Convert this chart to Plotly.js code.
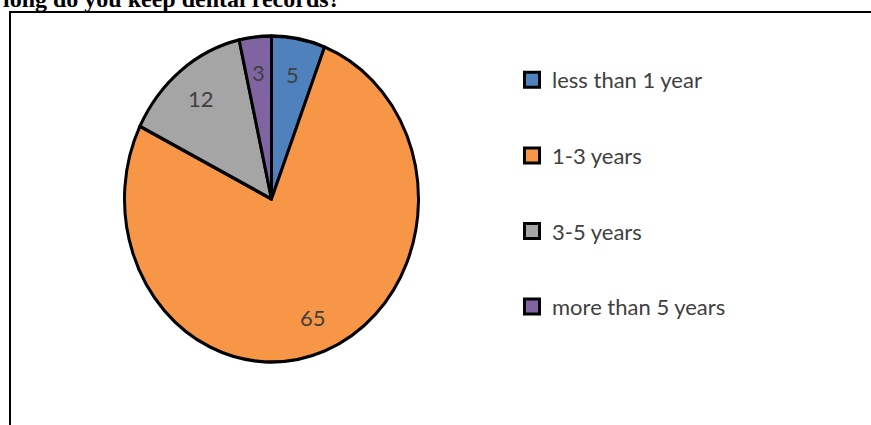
<!DOCTYPE html>
<html>
<head>
<meta charset="utf-8">
<script src="https://cdn.plot.ly/plotly-3.0.1.min.js"></script>
<style>html,body{margin:0;padding:0;background:#fff;}#chart{width:871px;height:425px;}</style>
</head>
<body>
<div id="chart"></div>
<script>
const categories = ["less than 1 year", "1-3 years", "3-5 years", "more than 5 years"];
const values = [5, 65, 12, 3];
const colors = ["#4f81bd", "#f79646", "#a5a5a5", "#8064a2"];
const titleText = "long do you keep dental records?";

// geometry (pixels)
const W = 871, H = 425;
const CX = 271.5, CY = 199, RX = 147, RY = 163, LABEL_R = 0.78;

const textFont = {family: "Lato, 'Open Sans', sans-serif", size: 22, color: "#404040"};

const pie = {
  type: "pie",
  labels: categories,
  values: values,
  sort: false,
  direction: "clockwise",
  rotation: 0,
  textinfo: "none",
  marker: {colors: colors, line: {color: "#000", width: 3}},
  showlegend: false,
  hoverinfo: "label+value",
  domain: {x: [(CX - RX) / W, (CX + RX) / W], y: [(H - CY - RX) / H, (H - CY + RX) / H]}
};

const legendTraces = categories.map((c, i) => ({
  type: "scatter", mode: "markers", x: [null], y: [null], name: c,
  legendgroup: "g" + i, showlegend: true, hoverinfo: "skip",
  marker: {symbol: "square", size: 15, color: colors[i], line: {color: "#000", width: 3}}
}));

// value labels placed along each slice's mid-angle
const total = values.reduce((a, b) => a + b, 0);
let cum = 0;
const valueLabels = values.map((v) => {
  const mid = (cum + v / 2) / total * 2 * Math.PI;
  cum += v;
  const px = CX + LABEL_R * RX * Math.sin(mid);
  const py = CY - LABEL_R * RY * Math.cos(mid);
  return {text: String(v), xref: "paper", yref: "paper", x: px / W, y: 1 - py / H,
          xanchor: "center", yanchor: "middle", showarrow: false, font: textFont};
});

const layout = {
  width: W, height: H,
  margin: {l: 0, r: 0, t: 0, b: 0},
  paper_bgcolor: "#fff", plot_bgcolor: "#fff",
  xaxis: {visible: false}, yaxis: {visible: false},
  showlegend: true,
  legend: {x: 512 / W, xanchor: "left", y: 1 - 59 / H, yanchor: "top",
           font: textFont, tracegroupgap: 44, bgcolor: "rgba(0,0,0,0)", borderwidth: 0},
  shapes: [{type: "rect", xref: "paper", yref: "paper", x0: 10 / W, x1: 1.02, y0: -0.02, y1: 1 - 12 / H,
            line: {color: "#000", width: 2}, fillcolor: "rgba(0,0,0,0)", layer: "below"}],
  annotations: [{text: "<b>" + titleText + "</b>", xref: "paper", yref: "paper", x: 1 / W, y: 1 - 14 / H,
                 xanchor: "left", yanchor: "bottom", showarrow: false,
                 font: {family: "'Liberation Serif', 'Times New Roman', serif", size: 24, color: "#000"}}]
    .concat(valueLabels)
};

Plotly.newPlot("chart", [pie].concat(legendTraces), layout, {displayModeBar: false, staticPlot: true})
  .then(() => {
    // the reference pie is slightly taller than wide: stretch vertically about its centre
    const g = document.querySelector("#chart .pielayer");
    if (g) g.setAttribute("transform", `translate(0,${CY}) scale(1,${RY / RX}) translate(0,${-CY})`);
  });
</script>
</body>
</html>
